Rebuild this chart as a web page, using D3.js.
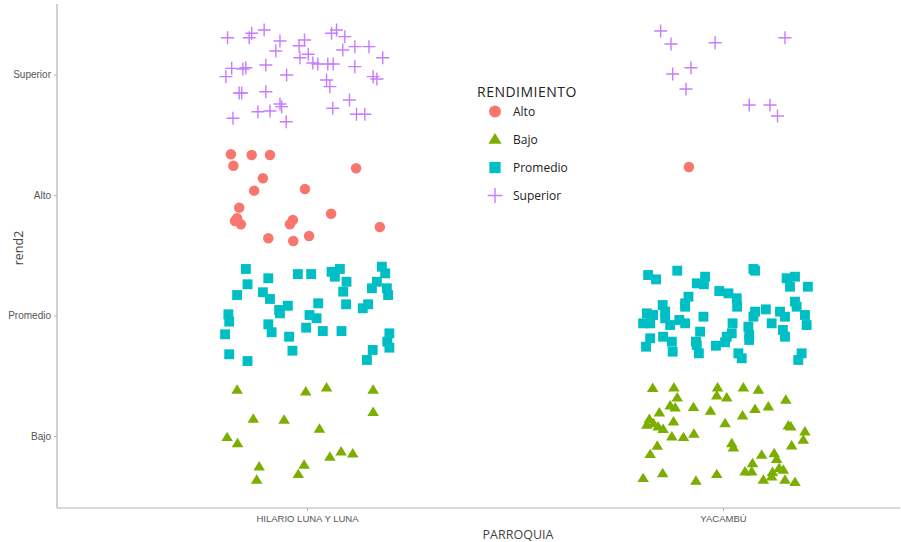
<!DOCTYPE html>
<html>
<head>
<meta charset="utf-8">
<script src="https://cdn.jsdelivr.net/npm/d3@7"></script>
<style>
  html, body { margin: 0; padding: 0; background: #fff; }
  svg { display: block; font-family: "Open Sans", "DejaVu Sans", sans-serif; }
</style>
</head>
<body>
<svg id="chart" width="901" height="542"></svg>
<script>
// ---------- data ----------
const parroquias = ["HILARIO LUNA Y LUNA", "YACAMBÚ"];
const niveles = ["Bajo", "Promedio", "Alto", "Superior"];        // y-axis levels 1..4
const legendLevels = ["Alto", "Bajo", "Promedio", "Superior"];
const levelColors = ["#F8766D", "#7CAE00", "#00BFC4", "#C77CFF"]; // Alto, Bajo, Promedio, Superior
const xTitle = "PARROQUIA";
const yTitle = "rend2";
const legendTitle = "RENDIMIENTO";

// jittered positions: [x (parroquia index 1..2 + jitter), y (level index 1..4 + jitter)]
const superiorHilario = [
  [0.809,4.305],[0.861,4.305],[0.867,4.342],[0.897,4.369],[0.935,4.278],[0.925,4.195],
  [0.981,4.239],[0.994,4.286],[0.983,4.139],[1.003,4.168],[1.014,4.095],[1.026,4.087],
  [1.050,4.087],[1.063,4.087],[1.059,4.342],[1.071,4.369],[1.091,4.314],[1.115,4.231],
  [1.149,4.231],[1.086,4.203],[1.182,4.139],[1.115,4.065],[1.159,3.982],[1.168,3.963],
  [0.805,3.982],[0.819,4.051],[0.846,4.046],[0.853,4.056],[0.901,4.079],[0.951,3.996],
  [1.047,3.954],[1.055,3.899],[0.837,3.846],[0.843,3.846],[0.901,3.857],[0.935,3.755],
  [0.939,3.733],[0.882,3.691],[0.911,3.697],[0.950,3.608],[0.822,3.637],[1.062,3.720],
  [1.102,3.788],[1.119,3.670],[1.139,3.670]
];
const superiorYacambu = [
  [1.850,4.361],[1.875,4.253],[1.981,4.264],[2.149,4.305],[1.879,4.004],[1.923,4.056],
  [1.911,3.880],[2.063,3.747],[2.113,3.747],[2.131,3.656]
];
const altoHilario = [
  [0.817,3.338],[0.867,3.332],[0.911,3.332],[0.823,3.243],[1.118,3.222],[0.894,3.139],
  [0.873,3.036],[0.995,3.050],[0.837,2.895],[0.827,2.784],[0.832,2.807],[0.841,2.757],
  [1.058,2.845],[0.966,2.793],[0.959,2.757],[1.175,2.734],[0.907,2.641],[0.967,2.618],
  [1.005,2.660]
];
const altoYacambu = [
  [1.918,3.232]
];
const promedioHilario = [
  [0.853,2.386],[0.857,2.259],[0.907,2.309],[0.832,2.170],[0.978,2.344],[1.010,2.344],
  [1.059,2.363],[1.079,2.386],[1.067,2.322],[1.095,2.280],[1.087,2.198],[1.180,2.405],
  [1.188,2.350],[1.168,2.280],[1.156,2.226],[1.192,2.226],[1.195,2.170],[0.894,2.193],
  [0.911,2.137],[0.933,2.046],[0.954,2.081],[0.935,2.018],[1.027,2.101],[1.094,2.093],
  [1.147,2.093],[1.134,2.060],[0.811,2.010],[0.813,1.949],[0.803,1.844],[0.907,1.927],
  [0.915,1.861],[1.006,2.004],[1.023,1.977],[0.998,1.899],[1.038,1.871],[1.083,1.871],
  [0.957,1.824],[0.965,1.708],[0.813,1.678],[0.857,1.622],[1.198,1.852],[1.193,1.783],
  [1.198,1.733],[1.158,1.714],[1.144,1.631]
];
const promedioYacambu = [
  [1.820,2.336],[1.839,2.300],[1.890,2.372],[1.937,2.267],[1.957,2.322],[1.954,2.259],
  [2.073,2.386],[2.077,2.372],[2.153,2.309],[2.173,2.322],[2.161,2.239],[2.204,2.239],
  [1.991,2.203],[2.013,2.184],[2.033,2.143],[2.034,2.073],[1.917,2.156],[1.909,2.101],
  [1.909,2.073],[1.855,2.087],[1.861,2.032],[1.861,1.977],[1.817,2.018],[1.832,2.004],
  [1.808,1.935],[1.825,1.935],[1.873,1.921],[1.895,1.963],[1.909,1.935],[1.953,1.990],
  [2.077,2.032],[2.103,2.051],[2.073,1.990],[2.137,2.032],[2.149,1.990],[2.173,2.115],
  [2.177,2.073],[2.197,2.004],[2.201,1.921],[2.023,1.935],[2.021,1.852],[2.061,1.907],
  [2.063,1.838],[2.117,1.935],[2.144,1.880],[2.149,1.824],[1.945,1.866],[1.935,1.783],
  [1.937,1.755],[1.825,1.811],[1.815,1.741],[1.856,1.824],[1.877,1.783],[1.879,1.700],
  [1.983,1.749],[2.005,1.778],[2.009,1.824],[2.063,1.797],[1.942,1.686],[2.037,1.686],
  [2.045,1.645],[2.189,1.686],[2.181,1.631]
];
const bajoHilario = [
  [0.832,1.382],[0.997,1.368],[1.047,1.401],[1.159,1.382],[1.159,1.197],[0.871,1.141],
  [0.945,1.133],[1.030,1.058],[0.808,0.989],[0.833,0.939],[1.055,0.826],[1.082,0.870],
  [1.110,0.853],[0.885,0.745],[0.879,0.635],[0.993,0.759],[0.979,0.682]
];
const bajoYacambu = [
  [1.831,1.396],[1.882,1.401],[1.987,1.401],[2.049,1.401],[2.085,1.382],[1.890,1.318],
  [1.985,1.334],[2.009,1.318],[1.873,1.251],[1.885,1.235],[1.929,1.238],[1.970,1.207],
  [2.151,1.299],[1.847,1.193],[2.077,1.222],[2.109,1.243],[2.047,1.168],[1.823,1.139],
  [1.817,1.091],[1.833,1.105],[1.844,1.077],[1.856,1.056],[1.881,1.119],[2.005,1.105],
  [2.157,1.085],[2.163,1.077],[1.877,0.994],[1.905,0.989],[1.930,1.017],[2.197,1.036],
  [2.193,0.967],[2.021,0.939],[2.025,0.903],[1.842,0.917],[1.825,0.848],[2.165,0.920],
  [2.093,0.842],[2.123,0.856],[2.129,0.807],[2.071,0.773],[2.053,0.704],[2.069,0.704],
  [2.135,0.732],[2.145,0.718],[2.119,0.699],[2.117,0.662],[2.097,0.635],[2.149,0.635],
  [2.173,0.616],[1.808,0.649],[1.855,0.690],[1.935,0.627],[1.985,0.682]
];

const groups = [
  { level: "Superior", pts: superiorHilario.concat(superiorYacambu) },
  { level: "Alto",     pts: altoHilario.concat(altoYacambu) },
  { level: "Promedio", pts: promedioHilario.concat(promedioYacambu) },
  { level: "Bajo",     pts: bajoHilario.concat(bajoYacambu) }
];

// ---------- layout ----------
const svg = d3.select("#chart");
const panel = { left: 57, right: 900, top: 4, bottom: 508 };

const x = d3.scaleLinear().domain([1, 2]).range([307, 723]);
const y = d3.scaleLinear().domain([1, 4]).range([436, 74.5]);
const color = d3.scaleOrdinal().domain(legendLevels).range(levelColors);

const axisColor = "#b3b3b3";
const textColor = "#555";

// ---------- marks ----------
function drawMarker(sel, level, size) {
  const c = color(level);
  if (level === "Alto") {
    sel.append("circle").attr("r", size * 0.5).attr("fill", c);
  } else if (level === "Promedio") {
    sel.append("rect").attr("x", -size * 0.47).attr("y", -size * 0.47)
      .attr("width", size * 0.94).attr("height", size * 0.94).attr("fill", c);
  } else if (level === "Bajo") {
    const h = size * 0.9, w = size * 1.1;
    sel.append("path").attr("d", `M0,${-h * 0.6}L${w / 2},${h * 0.4}L${-w / 2},${h * 0.4}Z`).attr("fill", c);
  } else {
    const a = size * 0.62;
    sel.append("path").attr("d", `M${-a},0H${a}M0,${-a}V${a}`)
      .attr("stroke", c).attr("stroke-width", 1.4).attr("fill", "none");
  }
}

const pointsLayer = svg.append("g");
groups.forEach(g => {
  g.pts.forEach(p => {
    const m = pointsLayer.append("g").attr("transform", `translate(${x(p[0])},${y(p[1])})`);
    drawMarker(m, g.level, 10.5);
  });
});

// ---------- axes ----------
const xAxis = d3.axisBottom(x).tickValues([1, 2]).tickFormat(d => parroquias[d - 1]).tickSize(3).tickPadding(4);
const yAxis = d3.axisLeft(y).tickValues([1, 2, 3, 4]).tickFormat(d => niveles[d - 1]).tickSize(3).tickPadding(3);

const gx = svg.append("g").attr("transform", `translate(0,${panel.bottom})`).call(xAxis);
gx.select(".domain").remove();
gx.append("line").attr("x1", panel.left).attr("x2", panel.right).attr("y1", 0).attr("y2", 0)
  .attr("stroke", axisColor).attr("stroke-width", 1.2);
gx.selectAll(".tick line").attr("stroke", axisColor);
gx.selectAll(".tick text").attr("fill", textColor).attr("font-size", 9.5);

const gy = svg.append("g").attr("transform", `translate(${panel.left},0)`).call(yAxis);
gy.select(".domain").remove();
gy.append("line").attr("x1", 0).attr("x2", 0).attr("y1", panel.top).attr("y2", panel.bottom)
  .attr("stroke", axisColor).attr("stroke-width", 1.2);
gy.selectAll(".tick line").attr("stroke", axisColor);
gy.selectAll(".tick text").attr("fill", textColor).attr("font-size", 10);

svg.append("text").attr("x", 518).attr("y", 539).attr("text-anchor", "middle")
  .attr("font-size", 12.5).attr("fill", "#444").text(xTitle);
svg.append("text").attr("transform", "translate(23,248) rotate(-90)").attr("text-anchor", "middle")
  .attr("font-size", 12.5).attr("fill", "#444").text(yTitle);

// ---------- legend ----------
const legend = svg.append("g").attr("transform", "translate(477,0)");
legend.append("text").attr("x", 0).attr("y", 97).attr("font-size", 14).attr("letter-spacing", 0.5)
  .attr("fill", "#222").text(legendTitle);
legendLevels.forEach((lv, i) => {
  const cy = 111.5 + i * 28;
  const m = legend.append("g").attr("transform", `translate(18,${cy})`);
  drawMarker(m, lv, 12);
  legend.append("text").attr("x", 36).attr("y", cy + 4.5).attr("font-size", 12).attr("fill", "#222").text(lv);
});
</script>
</body>
</html>
